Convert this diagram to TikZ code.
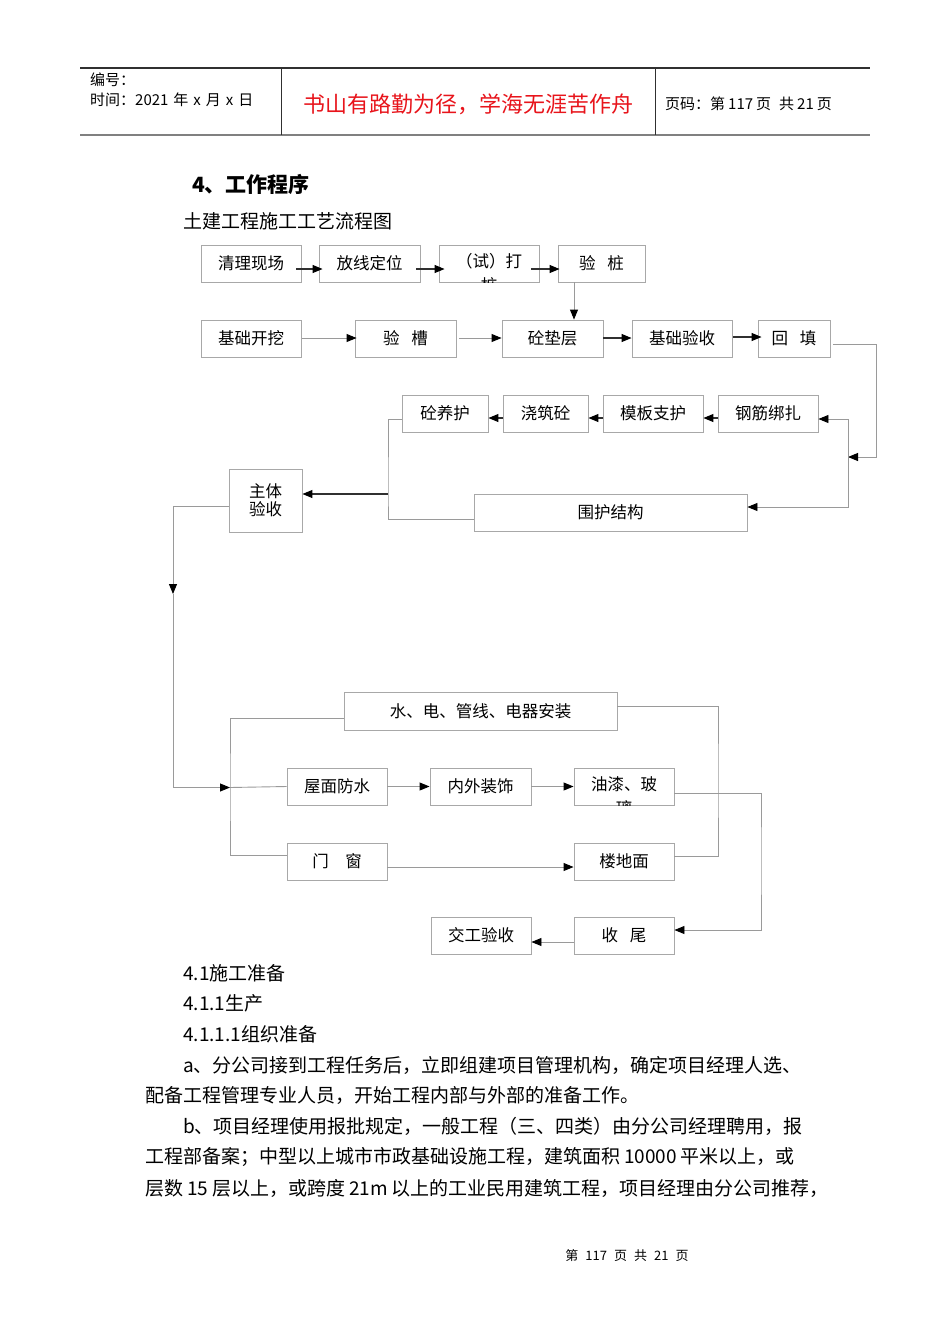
\documentclass[tikz,border=0pt]{standalone}
\usepackage{fontspec}
\setmainfont{Noto Sans CJK SC}
\usetikzlibrary{arrows.meta,calc}
\definecolor{bx}{HTML}{A8A8A8}
\definecolor{ln}{HTML}{9A9A9A}
\definecolor{dk}{HTML}{303030}
\definecolor{motto}{HTML}{E8141B}
\newcommand\fsz[1]{\fontsize{#1pt}{#1pt}\selectfont}
\tikzset{
  box/.style={draw=bx,line width=0.9pt,minimum height=37pt,inner sep=0pt,font=\fsz{16.5}},
  lnk/.style={draw=ln,line width=0.9pt},
  arr/.style={draw=ln,line width=0.9pt,-{Triangle[length=10pt,width=8pt,color=black]}},
  darr/.style={draw=dk,line width=1.1pt,-{Triangle[length=10pt,width=8pt,color=black]}},
  bodytxt/.style={anchor=west,inner sep=0pt,font=\fsz{19}},
  hdr/.style={anchor=west,inner sep=0pt,font=\fsz{15}}
}
\begin{document}
\begin{tikzpicture}[x=1pt,y=-1pt]
\useasboundingbox[fill=white] (0,0) rectangle (950,1344);
% header
\draw[draw=dk,line width=1.1pt] (80,68) -- (870,68);
\draw[draw=gray,line width=1.8pt] (80,135) -- (870,135);
\draw[draw=dk,line width=1pt] (281,68) -- (281,135);
\draw[draw=dk,line width=1pt] (655,68) -- (655,135);
\node[hdr] (h1) at (90,80) {编号：};
\node[hdr] (h2) at (90,100) {时间：2021\hspace{5pt}年\hspace{5pt}x\hspace{5pt}月\hspace{5pt}x\hspace{5pt}日};
\node[anchor=center,inner sep=0pt,font=\fsz{22},text=motto] (h3) at (468,104) {书山有路勤为径，学海无涯苦作舟};
\node[hdr] (h4) at (665,104) {页码：第\hspace{3pt}117\hspace{3pt}页\hspace{8pt}共\hspace{3pt}21\hspace{3pt}页};
% titles
\node[anchor=west,inner sep=0pt,font=\fsz{21}\bfseries] (t1) at (192,184) {4、工作程序};
\node[bodytxt] (t2) at (183,221) {土建工程施工工艺流程图};
% row 1
\node[box,minimum width=100pt] (qlxc) at (251,263.5) {清理现场};
\node[box,minimum width=101pt] (fxdw) at (369.5,263.5) {放线定位};
\node[box,minimum width=100pt] (sdz) at (489,263.5) {};
\begin{scope}
\clip (sdz.south west) rectangle (sdz.north east);
\node[align=center,inner sep=0pt,font=\fsz{16.5},anchor=north] (sdzt) at (489,253) {（试）打\\[8pt]桩};
\end{scope}
\node[box,minimum width=87pt] (yz) at (601.5,263.5) {验\hspace{0.7em}桩};
\draw[darr] ([xshift=-5pt,yshift=-5.5pt]qlxc.east) -- ([xshift=4pt,yshift=-5.5pt]fxdw.west);
\draw[darr] ([xshift=-4pt,yshift=-5.5pt]fxdw.east) -- ([xshift=6pt,yshift=-5.5pt]sdz.west);
\draw[darr] ([xshift=-8pt,yshift=-5.5pt]sdz.east) -- ([xshift=2pt,yshift=-5.5pt]yz.west);
% row 2
\node[box,minimum width=100pt] (jckw) at (251,338.5) {基础开挖};
\node[box,minimum width=101pt] (yc) at (405.5,338.5) {验\hspace{0.7em}槽};
\node[box,minimum width=101pt] (dcc) at (552.5,338.5) {砼垫层};
\node[box,minimum width=100pt] (jcys) at (682,338.5) {基础验收};
\node[box,minimum width=72pt] (ht) at (794,338.5) {回\hspace{0.7em}填};
\draw[arr] ([xshift=-27.5pt]yz.south) -- ([xshift=21.5pt]dcc.north);
\draw[arr] ([xshift=1pt,yshift=0.5pt]jckw.east) -- ([xshift=2pt,yshift=0.5pt]yc.west);
\draw[arr] ([xshift=3pt,yshift=0.5pt]yc.east) -- ([yshift=0.5pt]dcc.west);
\draw[darr] ([yshift=0.5pt]dcc.east) -- ([yshift=0.5pt]jcys.west);
\draw[darr] ([xshift=1pt,yshift=1.5pt]jcys.east) -- ([xshift=4pt,yshift=1.5pt]ht.west);
% row 3
\node[box,minimum width=86pt] (dyh) at (445,413.5) {砼养护};
\node[box,minimum width=85pt] (jzd) at (545.5,413.5) {浇筑砼};
\node[box,minimum width=100pt] (mbzh) at (653,413.5) {模板支护};
\node[box,minimum width=100pt] (gjbz) at (768,413.5) {钢筋绑扎};
\draw[darr] ([yshift=-4.5pt]jzd.west) -- ([yshift=-4.5pt]dyh.east);
\draw[darr] ([yshift=-4.5pt]mbzh.west) -- ([yshift=-4.5pt]jzd.east);
\draw[darr] ([yshift=-4.5pt]gjbz.west) -- ([yshift=-4.5pt]mbzh.east);
\coordinate (r1) at (876,457);
\coordinate (r1t) at (848,457);
\draw[arr] ([xshift=3pt,yshift=-5.5pt]ht.east) -| (r1) -- (r1t);
\coordinate (v1) at (848,419);
\draw[arr] (v1) -- ([yshift=-5.5pt]gjbz.east);
% main body check
\node[box,minimum width=73pt,minimum height=63pt,align=center] (ztys) at (265.5,500.5) {主体\\[1pt]验收};
\node[box,minimum width=273pt] (whjg) at (610.5,512.5) {围护结构};
\draw[arr] (v1) |- ([yshift=5.5pt]whjg.east);
\coordinate (c1) at (388,494);
\draw[lnk] ([yshift=-6pt]dyh.west) -| (c1) |- ([yshift=-6.5pt]whjg.west);
\draw[darr] (c1) -- (ztys.east |- c1);
\coordinate (c2) at (173,594);
\coordinate (c3) at (230,787.5);
\draw[arr] ([yshift=-6pt]ztys.west) -| (c2);
\draw[arr] (c2) |- (c3);
% finishing works
\node[box,minimum width=273pt,minimum height=38pt] (sd) at (480.5,711) {水、电、管线、电器安装};
\node[box,minimum width=100pt] (wmfs) at (337,786.5) {屋面防水};
\node[box,minimum width=101pt] (nwzs) at (480.5,786.5) {内外装饰};
\node[box,minimum width=100pt] (yqb) at (624,786.5) {};
\begin{scope}
\clip (yqb.south west) rectangle (yqb.north east);
\node[align=center,inner sep=0pt,font=\fsz{16.5},anchor=north] (yqbt) at (624,776) {油漆、玻\\[8pt]璃};
\end{scope}
\node[box,minimum width=100pt] (mc) at (337,861.5) {门\hspace{1em}窗};
\node[box,minimum width=100pt] (ldm) at (624,861.5) {楼地面};
\node[box,minimum width=100pt] (jgys) at (481,935.5) {交工验收};
\node[box,minimum width=100pt] (sw) at (624,935.5) {收\hspace{0.7em}尾};
\draw[lnk] (c3) -- (wmfs.west);
\draw[lnk] ([yshift=-7pt]sd.west) -| (c3) |- ([yshift=6.5pt]mc.west);
\draw[arr] (wmfs.east) -- (nwzs.west);
\draw[arr] (nwzs.east) -- (yqb.west);
\coordinate (c4) at (718,780);
\draw[lnk] ([yshift=5pt]sd.east) -| (c4) |- ([yshift=5.5pt]ldm.east);
\coordinate (c5) at (761,860);
\draw[arr] ([yshift=-6.5pt]yqb.east) -| (c5) |- ([yshift=5.5pt]sw.east);
\draw[arr] ([yshift=-5.5pt]mc.east) -- ([yshift=-5.5pt]ldm.west);
\draw[arr] ([yshift=-6.5pt]sw.west) -- ([yshift=-6.5pt]jgys.east);
% body text
\node[bodytxt] (p1) at (183,973) {4.1施工准备};
\node[bodytxt] (p2) at (183,1003) {4.1.1生产};
\node[bodytxt] (p3) at (183,1034) {4.1.1.1组织准备};
\node[bodytxt] (p4) at (183,1065) {a、分公司接到工程任务后，立即组建项目管理机构，确定项目经理人选、};
\node[bodytxt] (p5) at (145,1095) {配备工程管理专业人员，开始工程内部与外部的准备工作。};
\node[bodytxt] (p6) at (183,1126) {b、项目经理使用报批规定，一般工程（三、四类）由分公司经理聘用，报};
\node[bodytxt] (p7) at (145,1157) {工程部备案；中型以上城市市政基础设施工程，建筑面积\hspace{4pt}10000\hspace{4pt}平米以上，或};
\node[bodytxt] (p8) at (145,1188) {层数\hspace{4pt}15\hspace{4pt}层以上，或跨度\hspace{4pt}21m\hspace{4pt}以上的工业民用建筑工程，项目经理由分公司推荐，};
% footer
\node[inner sep=0pt,font=\fsz{13}] (ft) at (627,1256) {第\hspace{7pt}117\hspace{7pt}页\hspace{7pt}共\hspace{7pt}21\hspace{7pt}页};
\end{tikzpicture}
\end{document}
